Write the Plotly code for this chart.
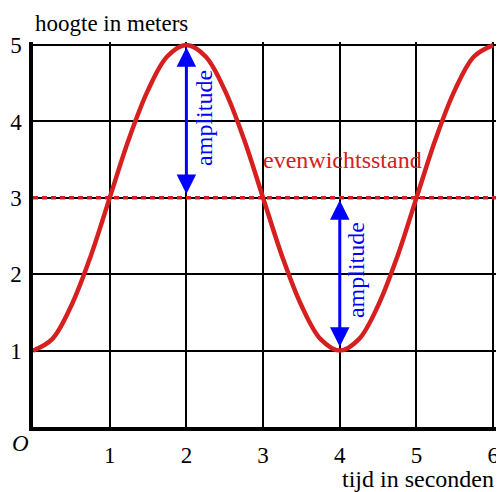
import plotly.graph_objects as go

# tijd (s) en hoogte (m)
tijd = [0, 0.25, 0.5, 0.75, 1, 1.25, 1.5, 1.75, 2, 2.25, 2.5, 2.75, 3,
        3.25, 3.5, 3.75, 4, 4.25, 4.5, 4.75, 5, 5.25, 5.5, 5.75, 6]
hoogte = [1, 1.15, 1.59, 2.23, 3, 3.77, 4.41, 4.85, 5, 4.85, 4.41, 3.77, 3,
          2.23, 1.59, 1.15, 1, 1.15, 1.59, 2.23, 3, 3.77, 4.41, 4.85, 5]

evenwicht = 3
x_ticks = [1, 2, 3, 4, 5, 6]
y_ticks = [1, 2, 3, 4, 5]
amp_x = [2, 4]
amp_top = [5, 3]
amp_bottom = [3, 1]

RED = "#d62020"
BLUE = "#0000ff"
FONT = "Liberation Serif"

fig = go.Figure()

fig.add_trace(go.Scatter(
    x=[0, 6.05], y=[evenwicht, evenwicht], mode="lines",
    line=dict(color=RED, width=3.5, dash="5px,4px"), hoverinfo="skip",
))
fig.add_trace(go.Scatter(
    x=tijd, y=hoogte, mode="lines",
    line=dict(color=RED, width=4.5, shape="spline", smoothing=1), hoverinfo="skip",
))

for xa, top, bot in zip(amp_x, amp_top, amp_bottom):
    fig.add_annotation(
        x=xa, y=top - 0.03, ax=xa, ay=bot + 0.03,
        xref="x", yref="y", axref="x", ayref="y",
        text="", showarrow=True, arrowside="end+start",
        arrowhead=2, startarrowhead=2, arrowsize=1.3, startarrowsize=1.3,
        arrowwidth=3, arrowcolor=BLUE,
    )
    fig.add_annotation(
        x=xa + 0.22, y=(top + bot) / 2 + 0.05, text="amplitude", showarrow=False,
        textangle=-90, font=dict(family=FONT, size=24, color=BLUE),
    )

fig.add_annotation(
    x=4.04, y=3.5, text="evenwichtsstand", showarrow=False,
    font=dict(family=FONT, size=24, color=RED),
)
fig.add_annotation(
    x=0.0, y=1.085, xref="paper", yref="paper", xanchor="left", yanchor="top",
    text="hoogte in meters", showarrow=False,
    font=dict(family=FONT, size=23, color="black"),
)
fig.add_annotation(
    x=0.998, y=-0.097, xref="paper", yref="paper", xanchor="right", yanchor="top",
    text="tijd in seconden", showarrow=False,
    font=dict(family=FONT, size=24, color="black"),
)
fig.add_annotation(
    x=-0.004, y=-0.006, xref="paper", yref="paper", xanchor="right", yanchor="top",
    text="<i>O</i>", showarrow=False,
    font=dict(family=FONT, size=23, color="black"),
)

fig.update_xaxes(
    range=[0, 6.05], tickvals=x_ticks, ticktext=[str(v) for v in x_ticks],
    showgrid=True, gridcolor="black", gridwidth=1.5,
    showline=True, linecolor="black", linewidth=3.5,
    zeroline=False, ticks="", ticklabelstandoff=5, automargin=False,
    tickfont=dict(family=FONT, size=23, color="black"),
)
fig.update_yaxes(
    range=[0, 5.04], tickvals=y_ticks, ticktext=[str(v) for v in y_ticks],
    showgrid=True, gridcolor="black", gridwidth=1.5,
    showline=True, linecolor="black", linewidth=3.5,
    zeroline=False, ticks="", ticklabelstandoff=3, automargin=False,
    tickfont=dict(family=FONT, size=23, color="black"),
)

# de pagina zet de figuur 8px van de rand (body-marge), daarom iets kleiner
fig.update_layout(
    width=496, height=484,
    margin=dict(l=25, r=7, t=34, b=65),
    paper_bgcolor="white", plot_bgcolor="white",
    showlegend=False,
)

fig.write_html("out.html")
